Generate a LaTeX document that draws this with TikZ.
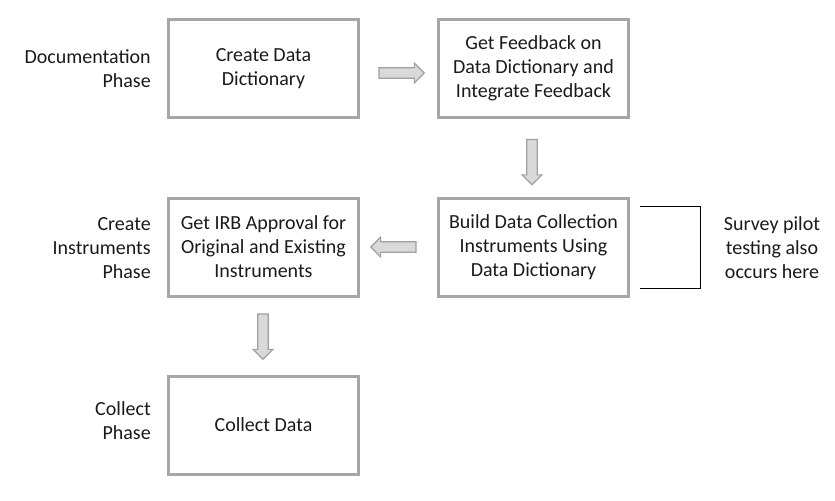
\documentclass[tikz,border=0pt]{standalone}
\usepackage{fontspec}
\setmainfont{Carlito}
\usetikzlibrary{shapes.arrows}
\definecolor{boxgray}{HTML}{A6A6A6}
\definecolor{arrowfill}{HTML}{D9D9D9}
\definecolor{arrowline}{HTML}{A0A0A0}
\definecolor{txt}{HTML}{1A1A1A}
\tikzset{
  phasebox/.style={draw=boxgray,line width=2.25pt,minimum width=142.5pt,minimum height=73.5pt,
    align=center,text=txt,font=\fontsize{15}{18}\selectfont},
  phaselabel/.style={anchor=east,align=right,text=txt,inner sep=0pt,font=\fontsize{15}{18}\selectfont},
  blockarrow/.style={single arrow,draw=arrowline,fill=arrowfill,line width=0.9pt,inner sep=3.5pt,
    minimum height=34pt,single arrow head extend=3.5pt,single arrow tip angle=90}
}
\begin{document}
\begin{tikzpicture}[x=0.75pt,y=-0.75pt]
\useasboundingbox (0,0) rectangle (835,500);
% steps
\node[phasebox] (dict) at (263.5,68.5) {Create Data\\Dictionary};
\node[phasebox] (feedback) at (533.5,68.5) {Get Feedback on\\Data Dictionary and\\Integrate Feedback};
\node[phasebox] (build) at (533.5,247) {Build Data Collection\\Instruments Using\\Data Dictionary};
\node[phasebox] (irb) at (263.5,247) {Get IRB Approval for\\Original and Existing\\Instruments};
\node[phasebox] (collect) at (263.5,425) {Collect Data};
% phases
\node[phaselabel] (docphase) at (151,69) {Documentation\\Phase};
\node[phaselabel] (instphase) at (151,248) {Create\\Instruments\\Phase};
\node[phaselabel] (colphase) at (151,421) {Collect\\Phase};
% block arrows between steps
\node[blockarrow] (a1) at (399,73) {};
\node[blockarrow,shape border rotate=270] (a2) at (532,159.5) {};
\node[blockarrow,shape border rotate=180] (a3) at (396,247) {};
\node[blockarrow,shape border rotate=270] (a4) at (263,334) {};
% note
\coordinate (brtop) at (640,206);
\coordinate (brbot) at (640,288);
\draw[line width=0.75pt] (brtop) -- ++(60,0) |- (brbot);
\node[align=center,text=txt,font=\fontsize{15}{18}\selectfont] (pilot) at (772,248) {Survey pilot\\testing also\\occurs here};
\end{tikzpicture}
\end{document}
